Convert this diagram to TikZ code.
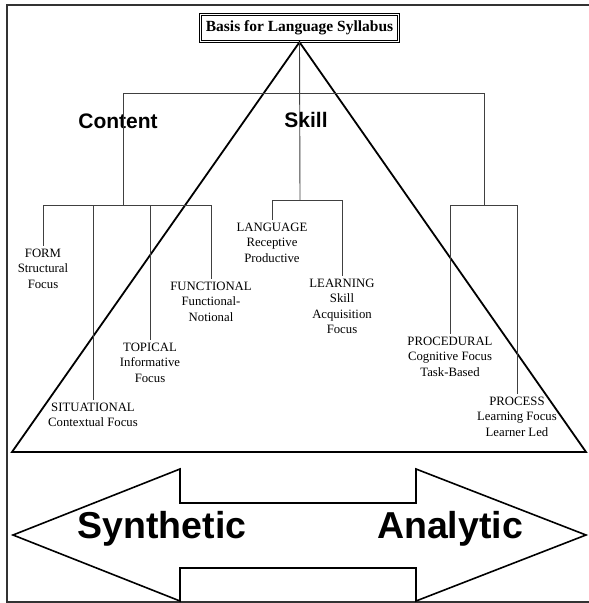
\documentclass[tikz,border=0pt]{standalone}
\usepackage{fontspec}
\setmainfont{Liberation Serif}
\newfontfamily\headfont{Liberation Sans}

\begin{document}
\begin{tikzpicture}[x=1pt,y=-1pt]
	\tikzstyle{title}=[draw,double,line width=1.3pt,double distance=0.7pt,minimum width=198pt,minimum height=27pt,inner sep=0pt,font=\fontsize{15.5}{18}\selectfont\bfseries]
	\tikzstyle{branch}=[align=center,anchor=north,inner sep=3pt,font=\fontsize{12.75}{15.3}\selectfont]
	\tikzstyle{heading}=[anchor=base,inner sep=0pt,font=\headfont\bfseries\fontsize{21}{24}\selectfont]
	\tikzstyle{sidetext}=[anchor=base,inner sep=0pt,font=\headfont\bfseries\fontsize{37.5}{40}\selectfont]
	\tikzstyle{treeline}=[draw,line width=0.9pt,black!75]
	\tikzstyle{pyramid}=[draw,line width=1.8pt,line join=miter]
	\tikzstyle{arrowshape}=[draw,line width=1.6pt,line join=miter]
	
	\useasboundingbox (0,0) rectangle (589,603);
	\draw[line width=1.2pt,black!80] (589,5) -- (7,5) -- (7,602) -- (589,602);
	
	\node[title] (basis) at (299.5,28) {Basis for Language Syllabus};
	\draw[pyramid] (basis.south) -- (12,452) -- (586,452) -- cycle;
	
	\node[heading] (content) at (118,128) {Content};
	\node[heading] (skill) at (306,127) {Skill};
	
	\coordinate (top) at (300,93);
	\coordinate (cbus) at (123,205);
	\coordinate (sbus) at (300,200);
	\coordinate (pbus) at (484,205);
	
	\node[branch] (form) at (43,246) {FORM\\Structural\\Focus};
	\node[branch] (situational) at (93,400) {SITUATIONAL\\Contextual Focus};
	\node[branch] (topical) at (150,340) {TOPICAL\\Informative\\Focus};
	\node[branch] (functional) at (211,279) {FUNCTIONAL\\Functional-\\Notional};
	\node[branch] (language) at (272,220) {LANGUAGE\\Receptive\\Productive};
	\node[branch] (learning) at (342,276) {LEARNING\\Skill\\Acquisition\\Focus};
	\node[branch] (procedural) at (450,334) {PROCEDURAL\\Cognitive Focus\\Task-Based};
	\node[branch] (process) at (517,394) {PROCESS\\Learning Focus\\Learner Led};
	
	\draw[treeline] (basis.south) -- (sbus);
	\draw[treeline] (cbus |- top) -- (pbus |- top);
	\draw[treeline] (cbus |- top) -- (cbus);
	\draw[treeline] (pbus |- top) -- (pbus);
	
	\draw[treeline] (cbus -| form.north) -- (cbus -| functional.north);
	\foreach \n in {form,situational,topical,functional}
		\draw[treeline] (cbus -| \n.north) -- (\n.north);
	\draw[treeline] (sbus -| language.north) -- (sbus -| learning.north);
	\foreach \n in {language,learning}
		\draw[treeline] (sbus -| \n.north) -- (\n.north);
	\draw[treeline] (pbus -| procedural.north) -- (pbus -| process.north);
	\foreach \n in {procedural,process}
		\draw[treeline] (pbus -| \n.north) -- (\n.north);
	
	\draw[arrowshape] (13,535) -- (180,469) -- (180,503) -- (416,503) -- (416,469) -- (586,535) -- (416,601) -- (416,568) -- (180,568) -- (180,601) -- cycle;
	\node[sidetext] (synthetic) at (162,538) {Synthetic};
	\node[sidetext] (analytic) at (450,538) {Analytic};
\end{tikzpicture}
\end{document}
